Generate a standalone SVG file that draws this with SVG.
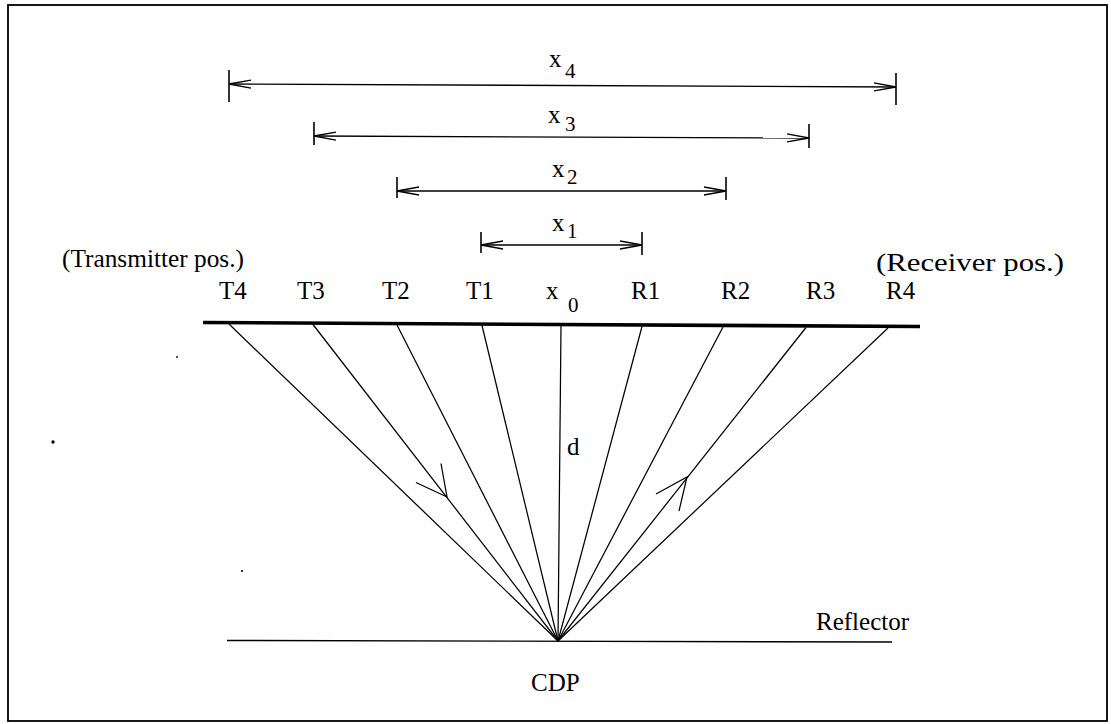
<svg xmlns="http://www.w3.org/2000/svg" width="1111" height="724" viewBox="0 0 1111 724">
<style>
text{font-family:"Liberation Serif","Times New Roman",serif;fill:#000}
.lbl{font-size:25px}
.sub{font-size:21px}
.thin{stroke:#000;stroke-width:1.3;fill:none}
.tick{stroke:#000;stroke-width:1.6}
.ray{stroke:#000;stroke-width:1.25;fill:none}
</style>
<defs>
<marker id="oa" markerUnits="userSpaceOnUse" viewBox="-24 -6 26 12" refX="0" refY="0" markerWidth="26" markerHeight="12" orient="auto-start-reverse">
<path d="M-22,-4 L0,0 L-22,4" fill="none" stroke="#000" stroke-width="1.3"/>
</marker>
</defs>
<rect x="8" y="5" width="1099" height="716" fill="#fff" stroke="#000" stroke-width="1.8"/>
<g id="dots" fill="#000">
<circle cx="53" cy="442" r="1.7"/>
<circle cx="242" cy="571" r="1.1"/>
<circle cx="177" cy="357" r="0.9"/>
</g>
<g id="ground"><line x1="203" y1="322.5" x2="920" y2="326.5" stroke="#000" stroke-width="3.6"/></g>
<g id="reflector"><line x1="227" y1="640.5" x2="892" y2="642" stroke="#000" stroke-width="1.4"/>
<text class="lbl" x="816" y="630">Reflector</text></g>
<g id="cdp"><text class="lbl" x="531" y="691">CDP</text></g>
<g id="connectors">
<line class="thin" x1="229" y1="84" x2="896" y2="87" marker-start="url(#oa)" marker-end="url(#oa)"/>
<line class="thin" x1="314" y1="136" x2="809" y2="138" marker-start="url(#oa)" marker-end="url(#oa)"/>
<line class="thin" x1="397" y1="191" x2="726" y2="191" marker-start="url(#oa)" marker-end="url(#oa)"/>
<line class="thin" x1="481" y1="245" x2="642" y2="245" marker-start="url(#oa)" marker-end="url(#oa)"/>
<line class="tick" x1="229" y1="70" x2="229" y2="102"/>
<line class="tick" x1="896" y1="73" x2="896" y2="105"/>
<line class="tick" x1="314" y1="122" x2="314" y2="145"/>
<line class="tick" x1="809" y1="124" x2="809" y2="148"/>
<line class="tick" x1="397" y1="177" x2="397" y2="198"/>
<line class="tick" x1="726" y1="177" x2="726" y2="200"/>
<line class="tick" x1="481" y1="232" x2="481" y2="253"/>
<line class="tick" x1="642" y1="232" x2="642" y2="255"/>
<line class="ray" x1="229" y1="324" x2="558" y2="641"/>
<line class="ray" x1="313" y1="324.5" x2="558" y2="641"/>
<line class="ray" x1="397" y1="325" x2="558" y2="641"/>
<line class="ray" x1="482" y1="325.5" x2="558" y2="641"/>
<line class="ray" x1="561" y1="326" x2="558" y2="641"/>
<line class="ray" x1="642" y1="326.5" x2="558" y2="641"/>
<line class="ray" x1="723" y1="327" x2="558" y2="641"/>
<line class="ray" x1="806" y1="327.5" x2="558" y2="641"/>
<line class="ray" x1="888" y1="328" x2="558" y2="641"/>
<path class="ray" d="M416,482.5 L447,497 L441,463.5"/>
<path class="ray" d="M656,494 L687,477 L679,511"/>
</g>
<g id="dim-labels">
<text class="lbl" x="549" y="67">x</text><text class="sub" x="565" y="78">4</text>
<text class="lbl" x="548" y="123">x</text><text class="sub" x="565" y="131">3</text>
<text class="lbl" x="552" y="177">x</text><text class="sub" x="567" y="184">2</text>
<text class="lbl" x="552" y="231">x</text><text class="sub" x="567" y="238">1</text>
</g>
<g id="transmitters">
<text class="lbl" x="62" y="267" textLength="182" lengthAdjust="spacingAndGlyphs">(Transmitter pos.)</text>
<text class="lbl" x="219" y="299">T4</text>
<text class="lbl" x="297" y="299">T3</text>
<text class="lbl" x="382" y="299">T2</text>
<text class="lbl" x="466" y="299">T1</text>
</g>
<g id="midpoint">
<text class="lbl" x="546" y="299">x</text><text class="sub" x="568" y="312">0</text>
<text class="lbl" x="567" y="455">d</text>
</g>
<g id="receivers">
<text class="lbl" x="876" y="271" textLength="188" lengthAdjust="spacingAndGlyphs">(Receiver pos.)</text>
<text class="lbl" x="631" y="299">R1</text>
<text class="lbl" x="721" y="299">R2</text>
<text class="lbl" x="806" y="299">R3</text>
<text class="lbl" x="886" y="299">R4</text>
</g>
</svg>
